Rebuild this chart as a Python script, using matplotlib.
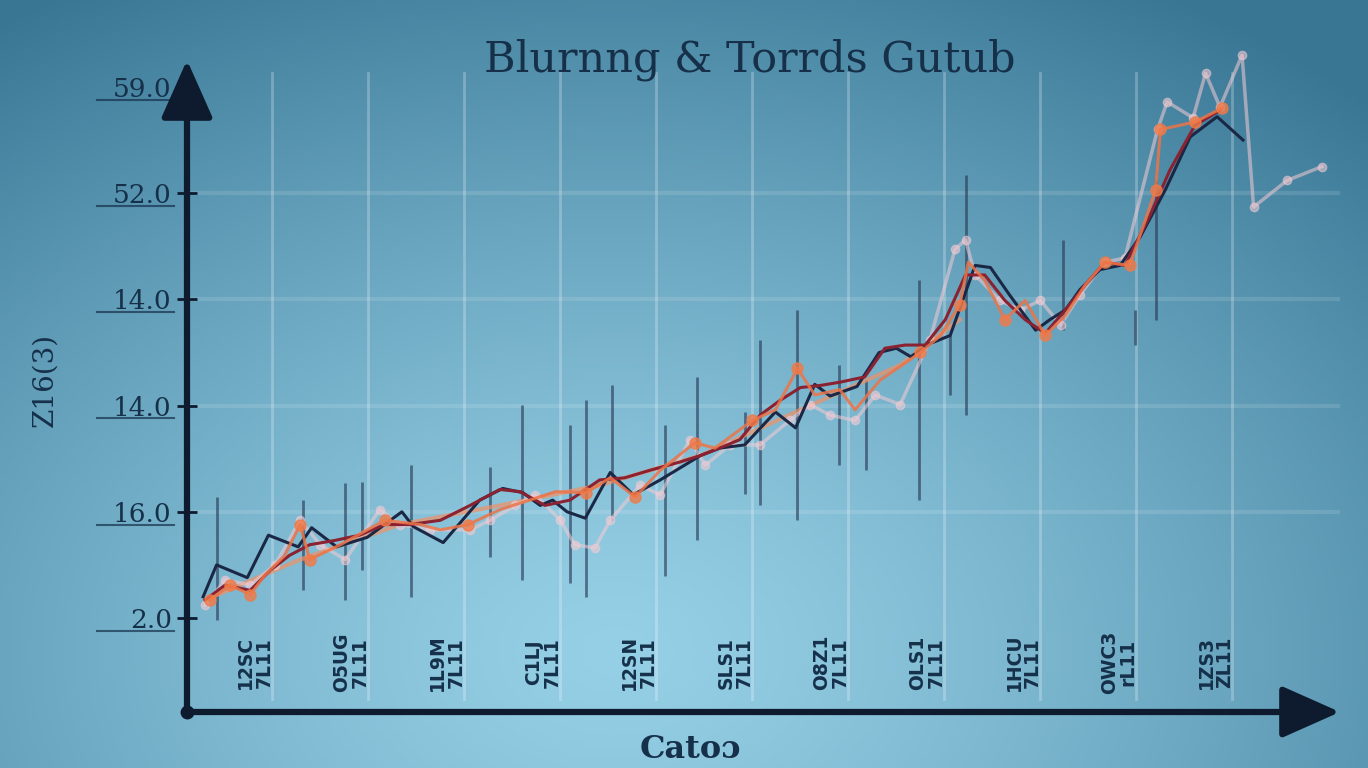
import numpy as np
import matplotlib.pyplot as plt

# ---- data (x in period index, y in tick-level units) ----
y_ticks = [0, 1, 2, 3, 4, 5]
y_labels = ["2.0", "16.0", "14.0", "14.0", "52.0", "59.0"]

x_ticks = [0, 1, 2, 3, 4, 5, 6, 7, 8, 9, 10]
x_labels = ["12SC\n7L11", "O5UG\n7L11", "1L9M\n7L11", "C1LJ\n7L11", "12SN\n7L11",
            "SLS1\n7L11", "O8Z1\n7L11", "OLS1\n7L11", "1HCU\n7L11", "OWC3\nrL11",
            "1ZS3\nZL11"]

navy_x = [-0.54, -0.40, -0.08, 0.14, 0.45, 0.59, 0.85, 1.17, 1.53, 1.65, 1.96, 2.34,
          2.58, 2.79, 2.97, 3.10, 3.25, 3.44, 3.70, 3.94, 4.22, 4.64, 4.84, 5.10, 5.42,
          5.63, 5.83, 5.99, 6.27, 6.50, 6.68, 6.83, 7.02, 7.24, 7.50, 7.66, 7.86, 8.13,
          8.28, 8.44, 8.59, 8.80, 9.01, 9.22, 9.48, 9.74, 10.02, 10.29]
navy_y = [0.20, 0.50, 0.38, 0.78, 0.67, 0.85, 0.67, 0.76, 1.00, 0.86, 0.71, 1.11,
          1.22, 1.18, 1.06, 1.11, 1.00, 0.94, 1.37, 1.16, 1.30, 1.53, 1.60, 1.63, 1.94,
          1.79, 2.20, 2.09, 2.18, 2.50, 2.54, 2.46, 2.58, 2.66, 3.32, 3.30, 3.04, 2.71,
          2.81, 2.90, 3.09, 3.28, 3.32, 3.59, 4.03, 4.53, 4.72, 4.50]

red_x = [-0.52, -0.31, -0.05, 0.16, 0.36, 0.57, 0.83, 1.09, 1.35, 1.61, 1.93, 2.24,
         2.55, 2.76, 3.02, 3.28, 3.59, 3.85, 4.11, 4.43, 4.64, 4.84, 5.05, 5.26, 5.47,
         5.68, 5.89, 6.09, 6.35, 6.56, 6.77, 6.98, 7.19, 7.40, 7.60, 7.81, 8.02, 8.23,
         8.44, 8.65, 8.85, 9.06, 9.32, 9.53, 9.79, 10.05]
red_y = [0.17, 0.31, 0.26, 0.45, 0.59, 0.69, 0.73, 0.78, 0.88, 0.88, 0.92, 1.06,
         1.21, 1.19, 1.06, 1.11, 1.30, 1.32, 1.39, 1.47, 1.53, 1.60, 1.68, 1.91, 2.05,
         2.17, 2.19, 2.22, 2.27, 2.54, 2.57, 2.57, 2.81, 3.23, 3.23, 2.99, 2.81, 2.68,
         2.90, 3.14, 3.35, 3.32, 3.79, 4.22, 4.64, 4.78]

orange_x = [-0.47, -0.26, -0.05, 0.10, 0.31, 0.47, 0.57, 0.89, 1.35, 1.72, 1.93, 2.22,
            2.55, 2.86, 3.13, 3.45, 3.70, 3.96, 4.22, 4.58, 4.79, 5.18, 5.42, 5.65, 5.83,
            6.09, 6.25, 6.51, 6.93, 7.14, 7.34, 7.43, 7.60, 7.81, 8.02, 8.23, 8.44, 8.65,
            8.85, 9.11, 9.38, 9.43, 9.79, 10.07]
orange_y = [0.17, 0.31, 0.22, 0.40, 0.59, 0.88, 0.55, 0.69, 0.92, 0.88, 0.83, 0.88,
            1.02, 1.11, 1.19, 1.18, 1.32, 1.14, 1.39, 1.65, 1.60, 1.86, 1.96, 2.35, 2.10,
            2.15, 1.96, 2.24, 2.50, 2.66, 2.95, 3.35, 3.18, 2.81, 2.99, 2.66, 2.85, 3.14,
            3.35, 3.32, 4.03, 4.60, 4.67, 4.80]

dot_x = [-0.47, -0.26, -0.05, 0.47, 0.57, 1.35, 2.22, 3.45, 3.96, 4.58, 5.18, 5.65,
         6.93, 7.34, 7.81, 8.23, 8.85, 9.11, 9.38, 9.43, 9.79, 10.07]
dot_y = [0.17, 0.31, 0.22, 0.88, 0.55, 0.92, 0.88, 1.18, 1.14, 1.65, 1.86, 2.35,
         2.50, 2.95, 2.81, 2.66, 3.35, 3.32, 4.03, 4.60, 4.67, 4.80]

pink_x = [-0.52, -0.31, -0.05, 0.21, 0.47, 0.68, 0.94, 1.30, 1.51, 1.82, 2.24, 2.45,
          2.71, 2.92, 3.18, 3.33, 3.54, 3.70, 4.01, 4.22, 4.53, 4.69, 4.95, 5.26, 5.57,
          5.78, 5.99, 6.25, 6.46, 6.72, 7.03, 7.29, 7.40, 7.50, 7.76, 7.97, 8.18, 8.39,
          8.59, 8.85, 9.06, 9.40, 9.50, 9.77, 9.90, 10.05, 10.28, 10.40, 10.75, 11.11]
pink_y = [0.12, 0.36, 0.31, 0.50, 0.92, 0.69, 0.55, 1.02, 0.88, 0.83, 0.83, 0.92,
          1.06, 1.16, 0.92, 0.69, 0.66, 0.92, 1.25, 1.16, 1.68, 1.44, 1.63, 1.63, 1.86,
          2.01, 1.91, 1.86, 2.10, 2.01, 2.62, 3.47, 3.56, 3.23, 2.99, 2.90, 2.99, 2.76,
          3.04, 3.35, 3.39, 4.60, 4.86, 4.71, 5.13, 4.81, 5.30, 3.87, 4.12, 4.25]

trend_x = [-0.52, 0.47, 1.51, 2.55, 3.59, 4.64, 5.68, 6.72, 7.34]
trend_y = [0.17, 0.55, 0.88, 1.06, 1.25, 1.53, 1.96, 2.38, 2.81]

spike_x = [-0.40, 0.50, 0.94, 1.11, 1.63, 2.45, 2.78, 3.28, 3.45, 3.72, 4.27, 4.60,
           5.10, 5.26, 5.64, 6.08, 6.36, 6.92, 7.24, 7.41, 8.41, 9.17, 9.38]
spike_lo = [-0.02, 0.26, 0.17, 0.45, 0.20, 0.57, 0.36, 0.33, 0.20, 0.92, 0.40, 0.73,
            1.17, 1.06, 0.92, 1.44, 1.39, 1.11, 2.10, 1.91, 2.71, 2.57, 2.81]
spike_hi = [1.14, 1.11, 1.27, 1.28, 1.44, 1.42, 2.01, 1.82, 2.05, 2.19, 1.82, 2.27,
            1.94, 2.62, 2.90, 2.38, 2.24, 3.18, 2.66, 4.17, 3.56, 2.90, 4.12]

W, H = 1368, 768
dark = '#0e1b2e'
ink = '#16304a'

fig = plt.figure(figsize=(W / 100, H / 100), dpi=100)

# blue vignette background
bg = fig.add_axes([0, 0, 1, 1], zorder=-10)
yy, xx = np.mgrid[0:1:240j, 0:1:420j]
d = np.sqrt(((xx - 0.45) / 0.8) ** 2 + ((yy - 0.85) / 1.0) ** 2)
t = np.clip(d, 0, 1) ** 1.3
light = np.array([150, 208, 230]) / 255
edge = np.array([56, 118, 148]) / 255
img = light * (1 - t)[..., None] + edge * t[..., None]
bg.imshow(img, aspect='auto', extent=[0, 1, 0, 1], origin='upper')
bg.axis('off')

ax = fig.add_axes([187 / W, (H - 712) / H, (1340 - 187) / W, (712 - 60) / H])
ax.patch.set_alpha(0)
ax.set_xlim(-0.708, 11.30)
ax.set_ylim(-0.885, 5.254)
for s in ax.spines.values():
    s.set_visible(False)

# faint grid
for xt in x_ticks:
    ax.axvline(xt + 0.18, ymin=0.02, ymax=0.98, color='white', alpha=0.25, lw=2, zorder=0)
for yt in y_ticks[1:5]:
    ax.axhline(yt, color='white', alpha=0.12, lw=3, zorder=0)

ax.vlines(spike_x, spike_lo, spike_hi, color='#2b3b57', alpha=0.65, lw=2, zorder=1)

ax.plot(trend_x, trend_y, color='#f29066', lw=3, alpha=0.7, zorder=2)
ax.plot(pink_x, pink_y, color='#f4ccd4', lw=2.5, alpha=0.55, marker='o', ms=6,
        mfc='#f4ccd4', mec='#f4ccd4', zorder=2, clip_on=False)
ax.plot(navy_x, navy_y, color='#1b2845', lw=2.2, zorder=3)
ax.plot(red_x, red_y, color='#8a2231', lw=2.2, zorder=3)
ax.plot(orange_x, orange_y, color='#ec7448', lw=2.2, alpha=0.85, zorder=4)
ax.plot(dot_x, dot_y, 'o', color='#f07a48', ms=8, alpha=0.8, zorder=5)

# axes arrows
arrow = dict(arrowstyle='-|>,head_length=0.9,head_width=0.4', lw=4.5, color=dark,
             mutation_scale=40, shrinkA=0, shrinkB=0)
ax.annotate('', xy=(1.0, 0), xytext=(0, 0), xycoords='axes fraction', arrowprops=arrow,
            annotation_clip=False)
ax.annotate('', xy=(0, 1.0), xytext=(0, 0), xycoords='axes fraction', arrowprops=arrow,
            annotation_clip=False)
ax.plot([0], [0], 'o', color=dark, ms=9, transform=ax.transAxes, clip_on=False)

# y ticks, underlined labels
ax.set_xticks([])
ax.set_yticks(y_ticks, y_labels)
ax.tick_params(axis='y', direction='inout', length=14, width=2, color=dark, pad=4,
               labelsize=19, labelcolor=ink)
for lab in ax.get_yticklabels():
    lab.set_family('DejaVu Serif')
ul = ax.get_yaxis_transform()
for yt in y_ticks:
    ax.plot([-0.078, -0.011], [yt - 0.12, yt - 0.12], color=ink, lw=1.5, alpha=0.7,
            transform=ul, clip_on=False)

# x labels sit inside the plot, rotated
for xt, lab in zip(x_ticks, x_labels):
    ax.text(xt, -0.42, lab, rotation=90, ha='center', va='center', fontsize=13.5,
            color=ink, fontweight='bold', linespacing=0.95)

fig.text(750 / W, 1 - 60 / H, "Blurnng & Torrds Gutub", ha='center', va='center',
         fontsize=31, color=ink, family='DejaVu Serif')
fig.text(690 / W, 1 - 750 / H, "Cato\u0254", ha='center', va='center', fontsize=23,
         color=ink, family='DejaVu Serif', fontweight='bold')
fig.text(45 / W, 1 - 380 / H, "Z16(3)", ha='center', va='center', rotation=90,
         fontsize=20, color=ink, family='DejaVu Serif')

fig.savefig('out.png', dpi=100)
